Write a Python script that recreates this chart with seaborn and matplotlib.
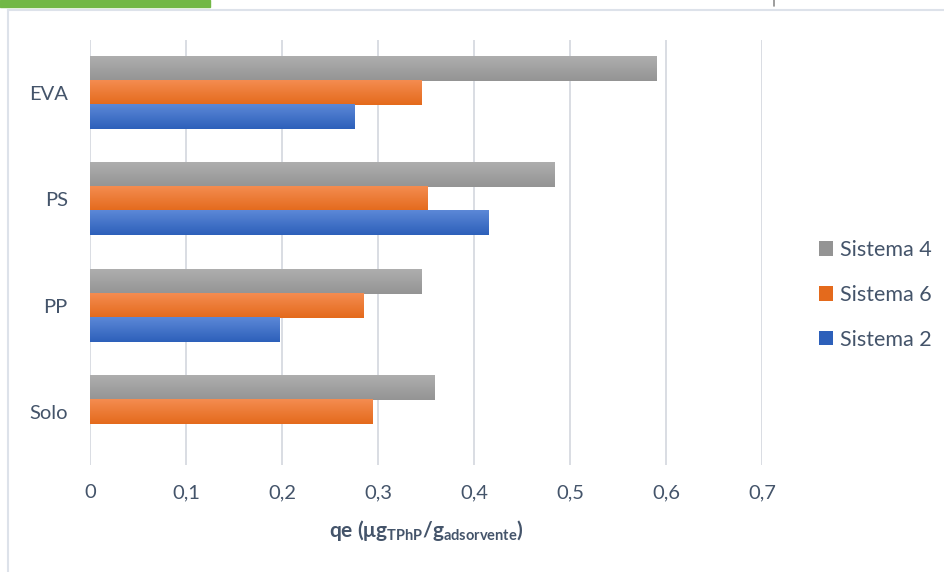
import numpy as np
import pandas as pd
import matplotlib
matplotlib.use("Agg")
import matplotlib.pyplot as plt
from matplotlib.patches import Patch, Rectangle
from matplotlib.lines import Line2D
from matplotlib.colors import to_rgb
import seaborn as sns

# ---- data -------------------------------------------------------------
categories = ["EVA", "PS", "PP", "Solo"]
series = ["Sistema 4", "Sistema 6", "Sistema 2"]
sistema_4 = [0.590, 0.484, 0.345, 0.359]
sistema_6 = [0.345, 0.352, 0.285, 0.294]
sistema_2 = [0.276, 0.415, 0.197, np.nan]
x_ticks = [0, 0.1, 0.2, 0.3, 0.4, 0.5, 0.6, 0.7]
x_tick_labels = ["0", "0,1", "0,2", "0,3", "0,4", "0,5", "0,6", "0,7"]

df = pd.DataFrame({
    "categoria": categories * 3,
    "serie": [series[0]] * 4 + [series[1]] * 4 + [series[2]] * 4,
    "qe": sistema_4 + sistema_6 + sistema_2,
})

# ---- style ------------------------------------------------------------
sns.set_theme(style="white")
plt.rcParams["font.family"] = ["Lato", "DejaVu Sans"]
plt.rcParams["mathtext.fontset"] = "custom"
plt.rcParams["mathtext.rm"] = "Lato"
plt.rcParams["mathtext.bf"] = "Lato:bold"
plt.rcParams["mathtext.it"] = "Lato:italic"

text_color = "#44546A"
grid_color = "#D9DDE3"
# (top, bottom) gradient colours for each series
gradients = {
    "Sistema 4": ("#AEAEAE", "#949494"),
    "Sistema 6": ("#F48C50", "#E46A1C"),
    "Sistema 2": ("#5C88D7", "#2D60BA"),
}
palette = {k: v[1] for k, v in gradients.items()}

W, H, DPI = 945, 572, 100
fig = plt.figure(figsize=(W / DPI, H / DPI), dpi=DPI)
ax = fig.add_axes([90 / W, 1 - 465 / H, (762 - 90) / W, (465 - 40) / H])

sns.barplot(data=df, y="categoria", x="qe", hue="serie", order=categories,
            hue_order=series, palette=palette, orient="h", width=0.68,
            saturation=1, errorbar=None, legend=False, ax=ax)

# vertical gradient fill for every bar
n = 64
for cont, name in zip(ax.containers, series):
    top, bot = (np.array(to_rgb(c)) for c in gradients[name])
    t = np.linspace(0, 1, n)[:, None]
    img = (top[None, :] * (1 - t) + bot[None, :] * t)[:, None, :]
    for p in cont.patches:
        w = p.get_width()
        if not np.isfinite(w) or w == 0:
            continue
        x0, y0, h = p.get_x(), p.get_y(), p.get_height()
        p.set_edgecolor("none")
        ax.imshow(img, extent=(x0, x0 + w, y0 + h, y0), aspect="auto",
                  interpolation="bilinear", zorder=3)

ax.set_xlim(0, 0.7)
ax.set_ylim(len(categories) - 0.5, -0.5)
ax.set_xticks(x_ticks)
ax.set_xticklabels(x_tick_labels)
ax.grid(axis="x", color=grid_color, linewidth=1.4)
ax.grid(axis="y", visible=False)
ax.set_axisbelow(True)
for s in ax.spines.values():
    s.set_visible(False)
ax.tick_params(axis="x", length=0, pad=14, labelsize=14.5, labelcolor=text_color)
ax.tick_params(axis="y", length=0, pad=16, labelsize=14.5, labelcolor=text_color)
ax.set_ylabel("")
ax.set_xlabel(r"qe (μg$_{\mathbf{TPhP}}$/g$_{\mathbf{adsorvente}}$)",
              fontsize=15, fontweight="bold", color=text_color, labelpad=12)

# legend
handles = [Patch(facecolor=palette[s], edgecolor="none") for s in series]
fig.legend(handles, series, loc="center left",
           bbox_to_anchor=(800 / W, 1 - 295 / H), frameon=False,
           fontsize=15.5, labelcolor=text_color, handlelength=0.65,
           handleheight=0.65, handletextpad=0.3, labelspacing=1.15)

# chart frame and top strip
fig.add_artist(Line2D([8 / W, 8 / W], [0, 1 - 10 / H], color="#DDE2EA", lw=1.5))
fig.add_artist(Line2D([8 / W, 1], [1 - 10 / H, 1 - 10 / H], color="#DDE2EA", lw=1.5))
fig.add_artist(Rectangle((0, 1 - 7 / H), 210 / W, 7 / H, color="#72B846",
                         transform=fig.transFigure))
fig.add_artist(Line2D([774 / W, 774 / W], [1 - 6 / H, 1], color="#8C8C8C", lw=1.2))

fig.savefig("out.png", dpi=DPI, facecolor="white")
